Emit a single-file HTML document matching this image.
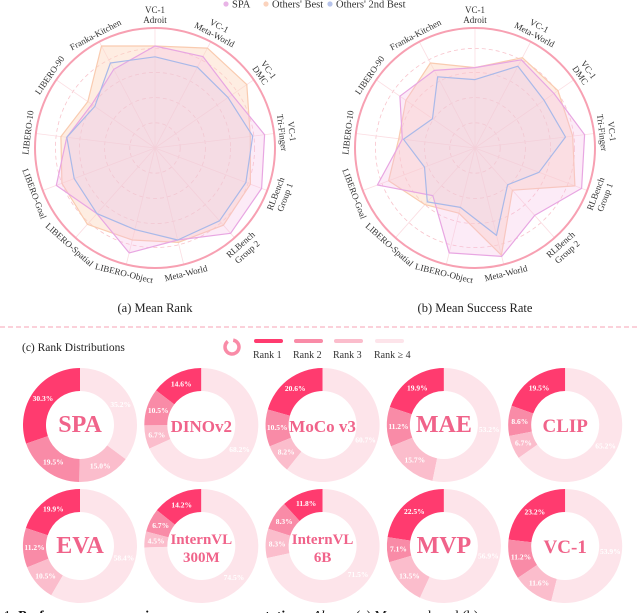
<!DOCTYPE html>
<html><head><meta charset="utf-8">
<style>
html,body{margin:0;padding:0;background:#fff;}
svg{display:block;font-family:"Liberation Serif",serif;}
</style></head>
<body>
<svg id="fig" width="640" height="613" viewBox="0 0 640 613">
</svg>
<script>
// ---------- data ----------
const axes = [["VC-1","Adroit"],["VC-1","Meta-World"],["VC-1","DMC"],["VC-1","Tri-Finger"],["RLBench","Group 1"],["RLBench","Group 2"],["Meta-World"],["LIBERO-Object"],["LIBERO-Spatial"],["LIBERO-Goal"],["LIBERO-10"],["LIBERO-90"],["Franka-Kitchen"]];
const rankSPA    = [0.85,0.86,0.78,0.92,0.95,0.95,0.79,0.90,0.73,0.88,0.74,0.64,0.74];
const rankBest   = [0.85,0.94,0.93,0.80,0.85,0.86,0.81,0.79,0.85,0.83,0.79,0.68,0.96];
const rank2nd    = [0.76,0.76,0.74,0.82,0.81,0.81,0.79,0.70,0.73,0.72,0.74,0.61,0.80];
const srSPA      = [0.67,0.83,0.80,0.92,0.95,0.75,0.93,0.90,0.53,0.87,0.61,0.76,0.73];
const srBest     = [0.67,0.85,0.84,0.82,0.89,0.47,0.92,0.56,0.63,0.77,0.64,0.70,0.80];
const sr2nd      = [0.57,0.77,0.70,0.76,0.57,0.41,0.75,0.51,0.60,0.45,0.60,0.43,0.67];

const models = ["SPA","DINOv2","MoCo v3","MAE","CLIP","EVA","InternVL 300M","InternVL 6B","MVP","VC-1"];
const rank1 = [30.3,14.6,20.6,19.9,19.5,19.9,14.2,11.8,22.5,23.2];
const rank2 = [19.5,10.5,10.5,11.2,8.6,11.2,6.7,8.3,7.1,11.2];
const rank3 = [15.0,6.7,8.2,15.7,6.7,10.5,4.5,8.3,13.5,11.6];
const rank4 = [35.2,68.2,60.7,53.2,65.2,58.4,74.5,71.5,56.9,53.9];

const NS="http://www.w3.org/2000/svg";
const svg=document.getElementById('fig');
function mk(tag,attrs,parent){const e=document.createElementNS(NS,tag);for(const k in attrs)e.setAttribute(k,attrs[k]);(parent||svg).appendChild(e);return e;}

// ---------- radar ----------
const R=120, N=axes.length;
function ang(i){return i*2*Math.PI/N;}
function pt(cx,cy,i,v){const a=ang(i);return [cx+Math.sin(a)*R*v, cy-Math.cos(a)*R*v];}
function radar(cx,cy,series,title,tname){
  const g=mk('g',{});
  
  
  [0.21,0.42,0.63,0.83].forEach(f=>{
    const c=mk('circle',{cx:cx,cy:cy,r:R*f,fill:'none',stroke:'#f8c4cc','stroke-width':0.8,'stroke-dasharray':'4 3'},g);
    
    
  });
  for(let i=0;i<N;i++){
    const p=pt(cx,cy,i,1);
    const l=mk('line',{x1:cx,y1:cy,x2:p[0],y2:p[1],stroke:'#fbdde2','stroke-width':0.8},g);
    
    
  }
  const styles=[
    {fill:'rgba(253,214,190,0.45)',stroke:'#f9cbb0',name:'others-best'},
    {fill:'rgba(244,190,230,0.30)',stroke:'#e8a6e2',name:'spa'},
    {fill:'rgba(200,210,245,0.10)',stroke:'#a9b9e9',name:'others-2nd-best'}];
  const order=[series[1],series[0],series[2]];
  order.forEach((vals,k)=>{
    const pts=vals.map((v,i)=>pt(cx,cy,i,v).map(n=>n.toFixed(1)).join(',')).join(' ');
    const pg=mk('polygon',{points:pts,fill:styles[k].fill,stroke:styles[k].stroke,'stroke-width':1.2,'stroke-linejoin':'round'},g);
    
    
  });
  const oc=mk('circle',{cx:cx,cy:cy,r:R,fill:'none',stroke:'#f7a0b2','stroke-width':2},g);
  
  
  for(let i=0;i<N;i++){
    const deg=i*360/N;
    const lines=axes[i];
    const lg=mk('g',{},g);
    
    
    const top=(deg<=90||deg>=270);
    if(top){
      lg.setAttribute('transform',`translate(${cx},${cy}) rotate(${deg})`);
      lines.forEach((t,j)=>{
        const tx=mk('text',{x:0,y:-(R+5)-(lines.length-1-j)*10,'text-anchor':'middle','font-size':9,fill:'#333'},lg);
        tx.textContent=t;
      });
    } else {
      lg.setAttribute('transform',`translate(${cx},${cy}) rotate(${deg}) translate(0,${-R}) rotate(180)`);
      lines.forEach((t,j)=>{
        const tx=mk('text',{x:0,y:12+j*10,'text-anchor':'middle','font-size':9,fill:'#333'},lg);
        tx.textContent=t;
      });
    }
  }
  const tt=mk('text',{x:cx,y:312,'text-anchor':'middle','font-size':12.5,fill:'#222'});
  tt.textContent=title;
  
  
}
radar(155,148,[rankSPA,rankBest,rank2nd],'(a) Mean Rank','mean-rank');
radar(475,148,[srSPA,srBest,sr2nd],'(b) Mean Success Rate','success-rate');

// top legend
const leg=[['SPA','#e8b4e6',226],["Others' Best",'#fbd3bd',266],["Others' 2nd Best",'#b6c3ea',330]];
leg.forEach(([t,c,x])=>{
  const g=mk('g',{});
  
  
  mk('circle',{cx:x,cy:4,r:2.6,fill:c},g);
  const tx=mk('text',{x:x+6,y:7.5,'font-size':10.5,fill:'#333'},g);tx.textContent=t;
});

// divider
const dv=mk('line',{x1:0,y1:327,x2:640,y2:327,stroke:'#f7a3b6','stroke-width':1,'stroke-dasharray':'5 3'});



const st=mk('text',{x:22,y:351,'font-size':11.5,fill:'#222'});st.textContent='(c) Rank Distributions';



// donut legend
const cols=['#ff3b6f','#f98ba7','#fbbdcc','#fde4ea'];
const rl=['Rank 1','Rank 2','Rank 3','Rank \u2265 4'];
const lic=mk('circle',{cx:232,cy:347,r:7,fill:'none',stroke:'#f98ba7','stroke-width':3.5,'stroke-dasharray':'38 6','transform':'rotate(-80 232 347)'});


[254,294,334,375].forEach((x,k)=>{
  const g=mk('g',{});
  
  
  mk('rect',{x:x,y:339,width:29,height:4,rx:2,fill:cols[k]},g);
  const tx=mk('text',{x:x-1,y:358,'font-size':10,fill:'#333'},g);tx.textContent=rl[k];
});

// donuts
const RO=57, RI=34;
function arc(cx,cy,a0,a1){
  const p=(f,r)=>{const a=-f*2*Math.PI;return [cx+Math.sin(a)*r, cy-Math.cos(a)*r];};
  const large=(a1-a0)>0.5?1:0;
  const [x0,y0]=p(a0,RO),[x1,y1]=p(a1,RO),[x2,y2]=p(a1,RI),[x3,y3]=p(a0,RI);
  return `M${x0},${y0} A${RO},${RO} 0 ${large} 0 ${x1},${y1} L${x2},${y2} A${RI},${RI} 0 ${large} 1 ${x3},${y3} Z`;
}
models.forEach((m,i)=>{
  const cx=80+(i%5)*121.3, cy=i<5?425:546;
  const g=mk('g',{});
  
  
  const vals=[rank1[i],rank2[i],rank3[i],rank4[i]];
  const tot=vals.reduce((a,b)=>a+b,0);
  let acc=0;
  vals.forEach((v,k)=>{
    const a0=acc/tot, a1=(acc+v)/tot;
    const pth=mk('path',{d:arc(cx,cy,a0,a1),fill:cols[k]},g);
    
    
    const mid=-(a0+a1)/2*2*Math.PI, rr=(RO+RI)/2;
    const tx=mk('text',{x:cx+Math.sin(mid)*rr,y:cy-Math.cos(mid)*rr+2.5,'text-anchor':'middle','font-size':7.5,'font-weight':'bold',fill:'#fff'},g);
    tx.textContent=v.toFixed(1)+'%';
    acc+=v;
  });
  const parts=m.startsWith('InternVL')?['InternVL',m.split(' ')[1]]:[m];
  if(parts.length===1){
    const fs=m.length>5?17:(m.length>3?19:24);
    const t=mk('text',{x:cx,y:cy+7,'text-anchor':'middle','font-size':fs,'font-weight':'bold',fill:'#f0638a'},g);t.textContent=m;
  } else {
    parts.forEach((p,j)=>{const t=mk('text',{x:cx,y:cy-2+j*18,'text-anchor':'middle','font-size':15,'font-weight':'bold',fill:'#f0638a'},g);t.textContent=p;});
  }
});

// caption (cut off)
const cap=mk('text',{x:-6,y:620,'font-size':14,fill:'#111'});


cap.innerHTML='e 1: <tspan font-weight="bold">Performance comparison across representations.</tspan> <tspan font-style="italic">Above:</tspan> (a) Mean rank and (b)';
</script>
</body></html>
